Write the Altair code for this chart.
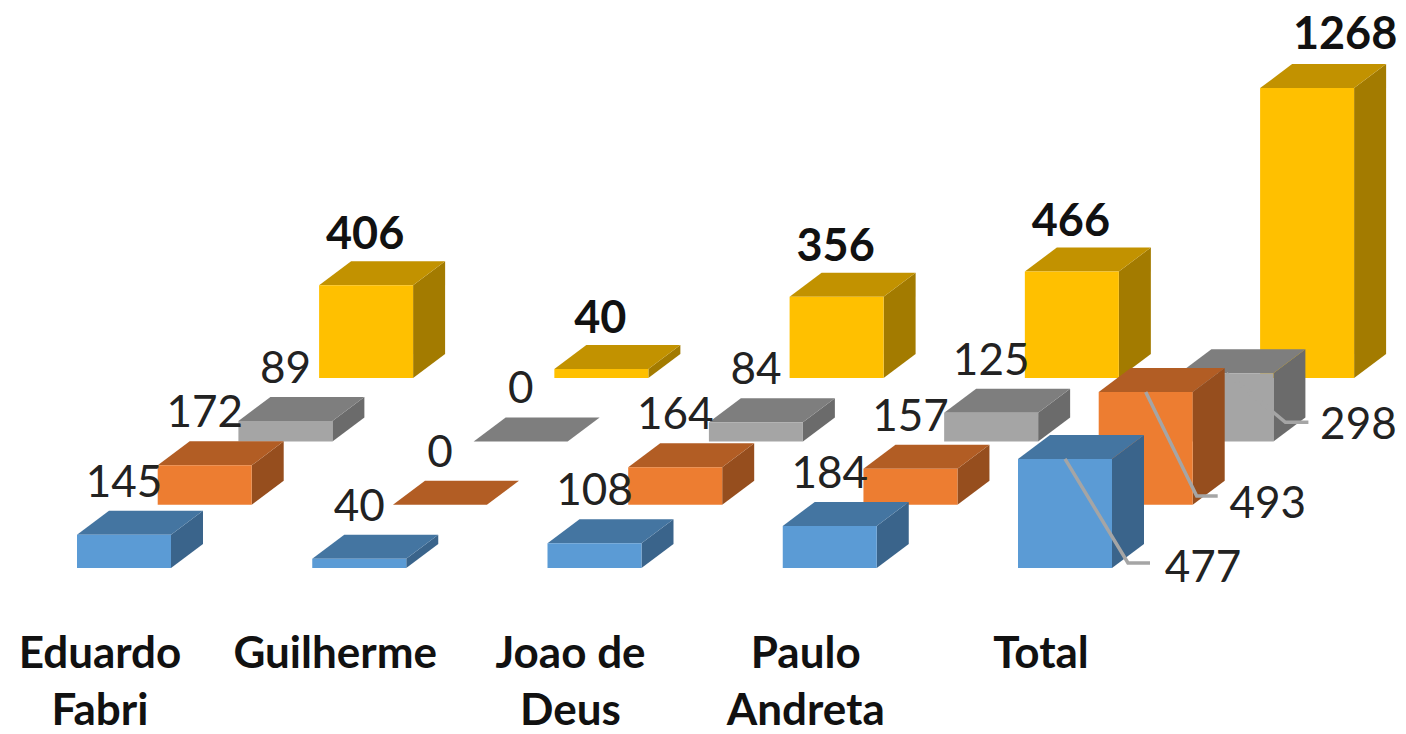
import altair as alt
import pandas as pd

categories = ["Eduardo Fabri", "Guilherme", "Joao de Deus", "Paulo Andreta", "Total"]
cat_line1 = ["Eduardo", "Guilherme", "Joao de", "Paulo", "Total"]
cat_line2 = ["Fabri", "", "Deus", "Andreta", ""]
series_a = [145, 40, 108, 184, 477]
series_b = [172, 0, 164, 157, 493]
series_c = [89, 0, 84, 125, 298]
series_d = [406, 40, 356, 466, 1268]
series_values = [series_a, series_b, series_c, series_d]

front = ["#5B9BD5", "#ED7D31", "#A5A5A5", "#FFC000"]
top = ["#4475A1", "#B25D24", "#7E7E7E", "#C29200"]
side = ["#3A648B", "#964E1E", "#6B6B6B", "#A37B00"]

W, H = 1390, 726
K = 0.2287            # pixels per value unit
X0, CAT, SER, BW = 69.0, 235.25, 80.7, 94.0
DX, DY = 32.0, 24.0 / K
ROW = 63.3 / K
BASE_PX = 560.0
y_dom = [-(H - BASE_PX) / K, BASE_PX / K]
x_enc = alt.Scale(domain=[0, W], range=[0, W])
y_scale = alt.Scale(domain=y_dom, range=[H, 0])
FONT = "Lato"


def X(f, **k):
    return alt.X(f, type="quantitative", scale=x_enc, axis=None, **k)


def Y(f):
    return alt.Y(f, type="quantitative", scale=y_scale, axis=None)


layers = []
for s in [3, 2, 1, 0]:
    fr, sd, tp = [], [], []
    for c, v in enumerate(series_values[s]):
        x = X0 + c * CAT + s * SER
        b = s * ROW
        fr.append(dict(x=x, x2=x + BW, y=b, y2=b + v))
        sd += [dict(b=c, x=x + BW, y=b, y2=b + v),
               dict(b=c, x=x + BW + DX, y=b + DY, y2=b + DY + v)]
        tp += [dict(b=c, y=b + v, xa=x, xb=x + BW),
               dict(b=c, y=b + v + DY, xa=x + DX, xb=x + BW + DX)]
    layers.append(alt.Chart(pd.DataFrame(sd)).mark_area(color=side[s], orient="vertical").encode(
        x=X("x"), y=Y("y"), y2="y2", detail="b:N"))
    layers.append(alt.Chart(pd.DataFrame(tp)).mark_area(color=top[s], orient="horizontal").encode(
        y=Y("y"), x=X("xa"), x2="xb", detail="b:N"))
    layers.append(alt.Chart(pd.DataFrame(fr)).mark_rect(color=front[s]).encode(
        x=X("x"), x2="x2", y=Y("y"), y2="y2"))

# leader lines of the three relocated "Total" labels (offsets from the bar's front-top centre, px)
leader = {0: dict(lx=138, ly=110, ex=63, ey=104, tx=85),
          1: dict(lx=122, ly=113, ex=51, ey=104, tx=72),
          2: dict(lx=132, ly=53, ex=59, ey=49, tx=82)}
lead_rows, labels = [], []
for s, vals in enumerate(series_values):
    for c, v in enumerate(vals):
        cx = X0 + c * CAT + s * SER + BW / 2
        ty = s * ROW + v
        if c == 4 and s in leader:
            L = leader[s]
            lead_rows += [dict(l=s, o=0, x=cx, y=ty),
                          dict(l=s, o=1, x=cx + L["ex"], y=ty - L["ey"] / K),
                          dict(l=s, o=2, x=cx + L["tx"], y=ty - L["ey"] / K)]
            labels.append(dict(x=cx + L["lx"], y=ty - L["ly"] / K, t=str(v), s=s))
        elif c == 4:
            labels.append(dict(x=cx + 38, y=ty + 53 / K, t=str(v), s=s))
        elif s == 3:
            labels.append(dict(x=cx - 1, y=ty + 50 / K, t=str(v), s=s))
        else:
            labels.append(dict(x=cx, y=ty + 51 / K, t=str(v), s=s))

layers.append(alt.Chart(pd.DataFrame(lead_rows)).mark_line(color="#A5A5A5", strokeWidth=3.5).encode(
    x=X("x"), y=Y("y"), detail="l:N", order="o:Q"))

lab = pd.DataFrame(labels)
layers.append(alt.Chart(lab[lab.s < 3]).mark_text(font=FONT, fontSize=44, color="#222222", baseline="middle", align="center").encode(
    x=X("x"), y=Y("y"), text="t:N"))
layers.append(alt.Chart(lab[lab.s == 3]).mark_text(font=FONT, fontSize=45, fontWeight="bold", color="#111111", baseline="middle", align="center").encode(
    x=X("x"), y=Y("y"), text="t:N"))

cat_rows = []
for c, (a, b) in enumerate(zip(cat_line1, cat_line2)):
    cx = X0 + c * CAT + BW / 2 - 24
    cat_rows.append(dict(x=cx, y=(BASE_PX - 647) * 1 / K, t=a))
    if b:
        cat_rows.append(dict(x=cx, y=(BASE_PX - 704) * 1 / K, t=b))
layers.append(alt.Chart(pd.DataFrame(cat_rows)).mark_text(font=FONT, fontSize=44, fontWeight="bold", color="#111111", baseline="middle", align="center").encode(
    x=X("x"), y=Y("y"), text="t:N"))

chart = alt.layer(*layers).properties(width=W, height=H, padding=0, autosize=alt.AutoSizeParams(type="none")).configure_view(stroke=None)
chart.save("out.html", embed_options={"renderer": "svg", "actions": False})
